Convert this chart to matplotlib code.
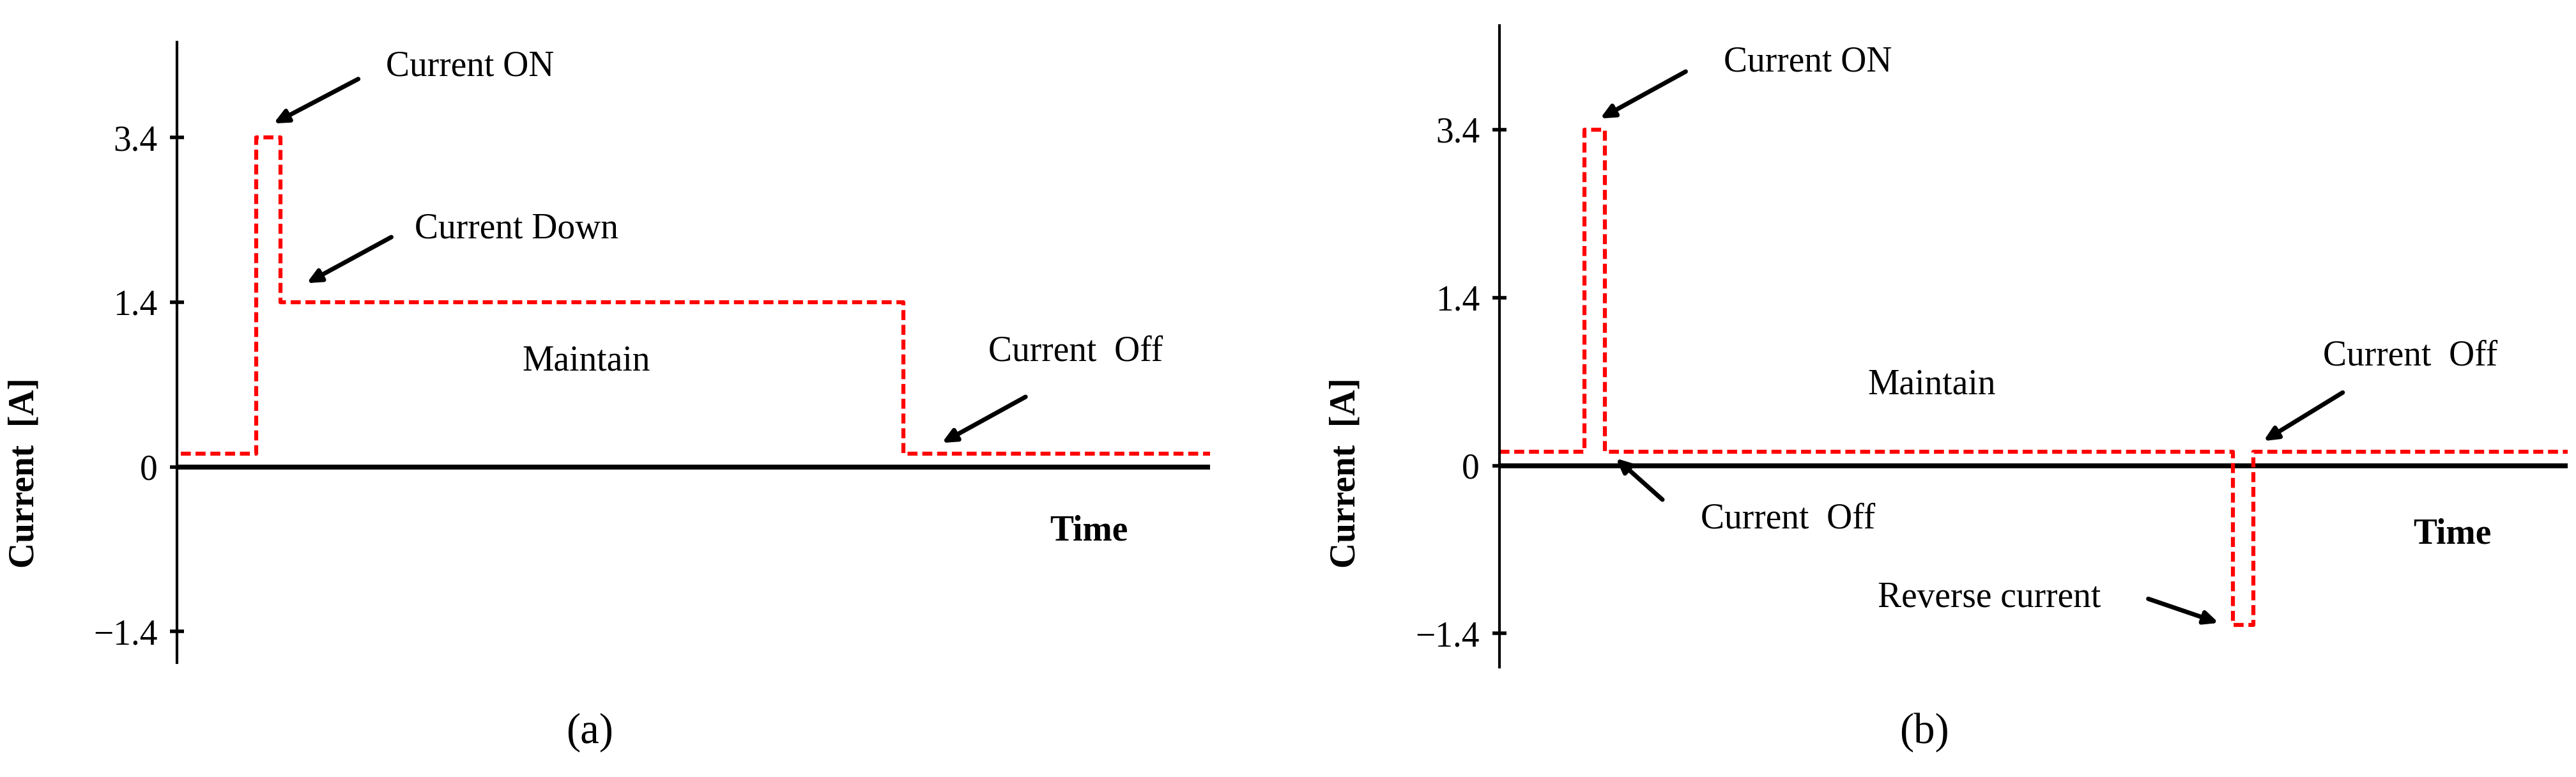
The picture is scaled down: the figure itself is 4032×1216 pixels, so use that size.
import matplotlib.pyplot as plt

plt.rcParams['font.family'] = ['Liberation Serif', 'DejaVu Serif']

# schematic levels: tick positions and their labels
tick_pos = [-1, 0, 1, 2]
tick_labels = ['\u22121.4', '0', '1.4', '3.4']

# panel (a) waveform (time, level)
t_a = [0.04, 0.77, 0.77, 1.0, 1.0, 7.03, 7.03, 10.0]
i_a = [0.08, 0.08, 2.0, 2.0, 1.0, 1.0, 0.08, 0.08]

# panel (b) waveform
t_b = [0.0, 0.80, 0.80, 0.99, 0.99, 6.87, 6.87, 7.06, 7.06, 10.0]
i_b = [0.08, 0.08, 2.0, 2.0, 0.08, 0.08, -0.95, -0.95, 0.08, 0.08]

fs = 40
fig = plt.figure(figsize=(40.32, 12.16), dpi=100)
ax_a = fig.add_axes([0.0687, 0.147, 0.401, 0.799])
ax_b = fig.add_axes([0.582, 0.1414, 0.4147, 0.826])


def setup(ax, ylo, yhi):
    ax.set_xlim(0, 10)
    ax.set_ylim(ylo, yhi)
    for s in ['top', 'right', 'bottom']:
        ax.spines[s].set_visible(False)
    ax.spines['left'].set_linewidth(3)
    ax.set_xticks([])
    ax.set_yticks(tick_pos)
    ax.set_yticklabels(tick_labels, fontsize=fs)
    ax.tick_params(axis='y', direction='inout', length=16, width=4, pad=14)
    ax.axhline(0, color='black', lw=5.5, zorder=1)


def arrow(ax, tail, head):
    ax.annotate('', xy=head, xytext=tail,
                arrowprops=dict(arrowstyle='-|>,head_width=0.6,head_length=1.3',
                                color='black', lw=5))


setup(ax_a, -1.19, 2.58)
ax_a.plot(t_a, i_a, color='red', ls='--', lw=4.5, dashes=(2.5, 1.2), zorder=2)
ax_a.text(2.84, 2.43, 'Current ON', fontsize=fs, ha='center', va='center')
arrow(ax_a, (1.77, 2.36), (0.92, 2.08))
ax_a.text(3.29, 1.44, 'Current Down', fontsize=fs, ha='center', va='center')
arrow(ax_a, (2.09, 1.40), (1.24, 1.11))
ax_a.text(3.96, 0.64, 'Maintain', fontsize=fs, ha='center', va='center')
ax_a.text(8.70, 0.70, 'Current  Off', fontsize=fs, ha='center', va='center')
arrow(ax_a, (8.23, 0.43), (7.39, 0.14))
ax_a.text(8.83, -0.39, 'Time', fontsize=fs, ha='center', va='center', fontweight='bold')

setup(ax_b, -1.2, 2.62)
ax_b.plot(t_b, i_b, color='red', ls='--', lw=4.5, dashes=(2.5, 1.2), zorder=2)
ax_b.text(2.89, 2.40, 'Current ON', fontsize=fs, ha='center', va='center')
arrow(ax_b, (1.76, 2.35), (0.93, 2.06))
ax_b.text(2.70, -0.32, 'Current  Off', fontsize=fs, ha='center', va='center')
arrow(ax_b, (1.54, -0.21), (1.08, 0.05))
ax_b.text(4.05, 0.48, 'Maintain', fontsize=fs, ha='center', va='center')
ax_b.text(8.53, 0.65, 'Current  Off', fontsize=fs, ha='center', va='center')
arrow(ax_b, (7.91, 0.44), (7.14, 0.14))
ax_b.text(4.59, -0.79, 'Reverse current', fontsize=fs, ha='center', va='center')
arrow(ax_b, (6.06, -0.79), (6.75, -0.94))
ax_b.text(8.92, -0.41, 'Time', fontsize=fs, ha='center', va='center', fontweight='bold')

fig.text(39 / 4032, 1 - 740 / 1216, 'Current  [A]', rotation=90, fontsize=fs,
         fontweight='bold', ha='center', va='center')
fig.text(2107 / 4032, 1 - 740 / 1216, 'Current  [A]', rotation=90, fontsize=fs,
         fontweight='bold', ha='center', va='center')
fig.text(923 / 4032, 1 - 1146 / 1216, '(a)', fontsize=48, ha='center', va='center')
fig.text(3012 / 4032, 1 - 1146 / 1216, '(b)', fontsize=48, ha='center', va='center')

fig.savefig('out.png', dpi=100, facecolor='white')
